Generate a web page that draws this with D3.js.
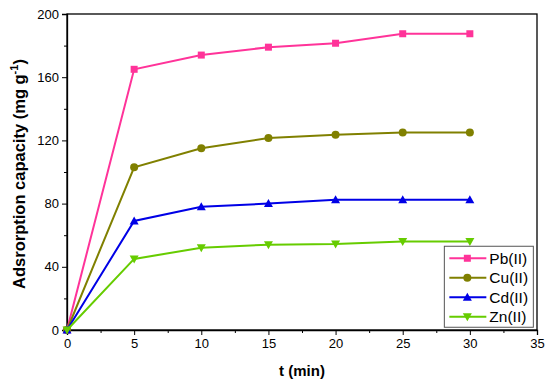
<!DOCTYPE html>
<html lang="en">
<head>
  <meta charset="UTF-8" />
  <title>Adsorption capacity vs time</title>
  <style>
    body { margin: 0; background: #fff; }
    svg { display: block; font-family: Arial, "Liberation Sans", sans-serif; }
  </style>
  <script src="https://cdn.jsdelivr.net/npm/d3@7"></script>
</head>
<body>
  <div id="chart"></div>
  <script>
    const times = [0, 5, 10, 15, 20, 25, 30];
    const pb = [0, 165, 174, 179, 181.5, 187.5, 187.5];
    const cu = [0, 103, 115, 121.5, 123.5, 125, 125];
    const cd = [0, 69, 78, 80, 82.5, 82.5, 82.5];
    const zn = [0, 45, 52, 54, 54.5, 56, 56];
    const seriesNames = ['Pb(II)', 'Cu(II)', 'Cd(II)', 'Zn(II)'];
    const xTicks = [0, 5, 10, 15, 20, 25, 30, 35];
    const yTicks = [0, 40, 80, 120, 160, 200];

    const series = [
      { name: seriesNames[0], values: pb, color: '#ff3399', marker: 'square' },
      { name: seriesNames[1], values: cu, color: '#808000', marker: 'circle' },
      { name: seriesNames[2], values: cd, color: '#0000e6', marker: 'triangle' },
      { name: seriesNames[3], values: zn, color: '#66cc00', marker: 'triangleDown' }
    ];

    const width = 550, height = 387;
    const margin = { top: 14, right: 13, bottom: 57, left: 67 };
    const innerW = width - margin.left - margin.right;
    const innerH = height - margin.top - margin.bottom;

    const svg = d3.select('#chart').append('svg')
      .attr('width', width)
      .attr('height', height);

    const g = svg.append('g')
      .attr('transform', `translate(${margin.left},${margin.top})`);

    const x = d3.scaleLinear().domain([0, 35]).range([0, innerW]);
    const y = d3.scaleLinear().domain([0, 200]).range([innerH, 0]);

    // frame
    g.append('rect')
      .attr('width', innerW).attr('height', innerH)
      .attr('fill', 'none').attr('stroke', '#000').attr('stroke-width', 1.3);

    // minor ticks
    g.append('g')
      .attr('transform', `translate(0,${innerH})`)
      .call(d3.axisBottom(x).tickValues(d3.range(2.5, 35, 5)).tickSize(3).tickFormat(''))
      .call(a => a.select('.domain').remove());
    g.append('g')
      .call(d3.axisLeft(y).tickValues(d3.range(20, 200, 40)).tickSize(3).tickFormat(''))
      .call(a => a.select('.domain').remove());

    const xAxis = g.append('g')
      .attr('transform', `translate(0,${innerH})`)
      .call(d3.axisBottom(x).tickValues(xTicks).tickSize(5).tickPadding(4));
    const yAxis = g.append('g')
      .call(d3.axisLeft(y).tickValues(yTicks).tickSize(5).tickPadding(3));
    [xAxis, yAxis].forEach(a => {
      a.select('.domain').attr('stroke-width', 1.3);
      a.selectAll('text').attr('font-size', 13).attr('fill', '#000')
        .attr('font-family', 'Arial, "Liberation Sans", sans-serif');
    });

    // axis titles
    svg.append('text')
      .attr('x', margin.left + x(17.5)).attr('y', 376)
      .attr('text-anchor', 'middle')
      .attr('font-size', 15).attr('font-weight', 'bold')
      .text('t (min)');

    const yTitle = svg.append('text')
      .attr('transform', `translate(25,${margin.top + innerH / 2 + 2}) rotate(-90)`)
      .attr('text-anchor', 'middle')
      .attr('font-size', 16.5).attr('font-weight', 'bold');
    yTitle.append('tspan').text('Adsrorption capacity (mg g');
    yTitle.append('tspan').attr('dy', -7).attr('font-size', 11).text('-1');
    yTitle.append('tspan').attr('dy', 7).text(')');

    function drawMarker(sel, type, color) {
      if (type === 'square') {
        sel.append('rect').attr('x', -3.5).attr('y', -3.5).attr('width', 7).attr('height', 7).attr('fill', color);
      } else if (type === 'circle') {
        sel.append('circle').attr('r', 4).attr('fill', color);
      } else if (type === 'triangle') {
        sel.append('path').attr('d', 'M0,-4.5L4.5,3.5L-4.5,3.5Z').attr('fill', color);
      } else {
        sel.append('path').attr('d', 'M0,4.5L4.5,-3.5L-4.5,-3.5Z').attr('fill', color);
      }
    }

    const line = d3.line()
      .x((d, i) => x(times[i]))
      .y(d => y(d));

    series.forEach(s => {
      g.append('path')
        .datum(s.values)
        .attr('fill', 'none')
        .attr('stroke', s.color)
        .attr('stroke-width', 2)
        .attr('d', line);
      s.values.forEach((v, i) => {
        const m = g.append('g').attr('transform', `translate(${x(times[i])},${y(v)})`);
        drawMarker(m, s.marker, s.color);
      });
    });

    // legend
    const legend = g.append('g').attr('transform', `translate(${x(28.1)},${y(53)})`);
    legend.append('rect')
      .attr('width', 89).attr('height', 81)
      .attr('fill', '#fff').attr('stroke', '#555').attr('stroke-width', 1);
    series.forEach((s, i) => {
      const row = legend.append('g').attr('transform', `translate(0,${12 + i * 19.5})`);
      row.append('line').attr('x1', 5).attr('x2', 42).attr('stroke', s.color).attr('stroke-width', 2);
      drawMarker(row.append('g').attr('transform', 'translate(23,0)'), s.marker, s.color);
      row.append('text').attr('x', 45).attr('y', 5.5)
        .attr('font-size', 15.5).text(s.name);
    });
  </script>
</body>
</html>
